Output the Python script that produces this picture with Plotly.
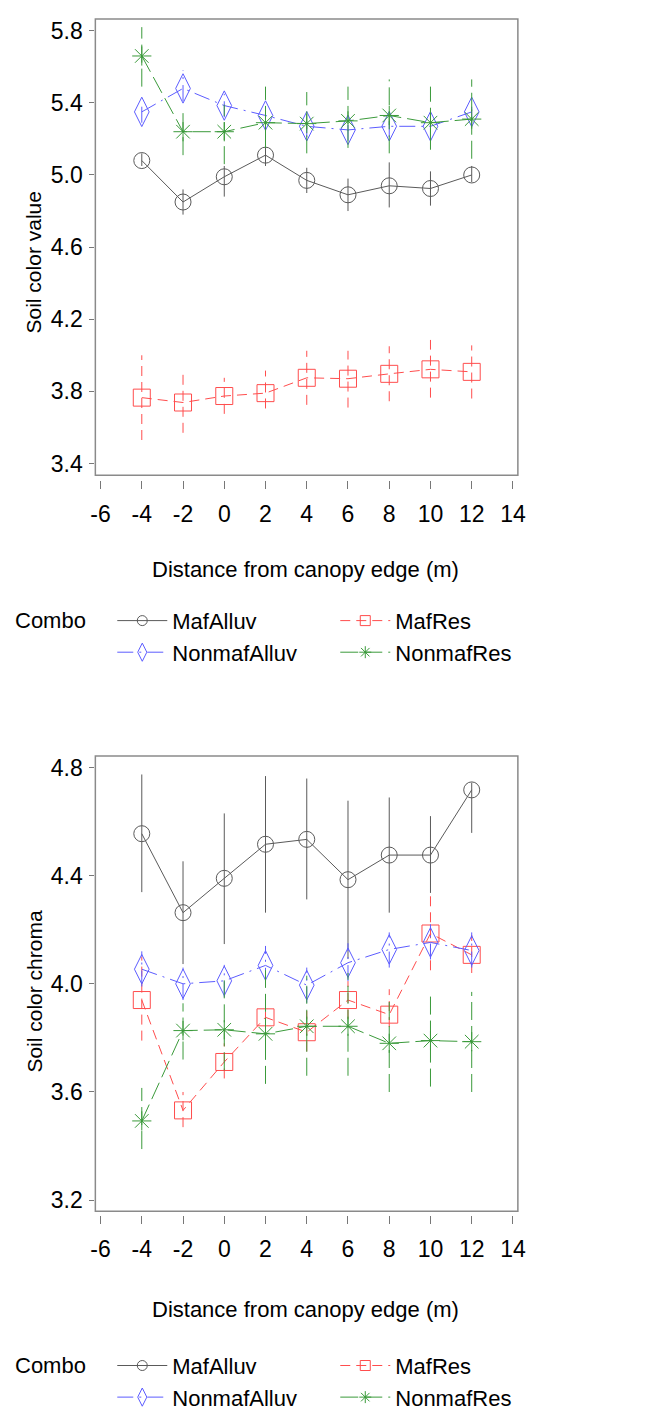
import plotly.graph_objects as go

# ---------------- data ----------------
distance = [-4, -2, 0, 2, 4, 6, 8, 10, 12]
x_ticks = [-6, -4, -2, 0, 2, 4, 6, 8, 10, 12, 14]
x_tick_labels = ["-6", "-4", "-2", "0", "2", "4", "6", "8", "10", "12", "14"]
combos = ["MafAlluv", "MafRes", "NonmafAlluv", "NonmafRes"]

# Panel 1: Soil color value (mean, lower, upper)
value_mafalluv = [5.08, 4.85, 4.99, 5.11, 4.97, 4.89, 4.94, 4.925, 5.00]
value_mafalluv_lo = [5.05, 4.78, 4.88, 5.05, 4.90, 4.80, 4.82, 4.83, 4.96]
value_mafalluv_hi = [5.12, 4.92, 5.05, 5.17, 5.04, 4.98, 5.07, 5.02, 5.05]

value_mafres = [3.765, 3.738, 3.774, 3.79, 3.875, 3.87, 3.897, 3.922, 3.908]
value_mafres_lo = [3.53, 3.57, 3.675, 3.705, 3.725, 3.71, 3.745, 3.765, 3.76]
value_mafres_hi = [4.00, 3.90, 3.875, 3.915, 4.025, 4.025, 4.05, 4.085, 4.055]

value_nonmafalluv = [5.35, 5.48, 5.385, 5.33, 5.27, 5.25, 5.27, 5.27, 5.35]
value_nonmafalluv_lo = [5.29, 5.41, 5.32, 5.27, 5.21, 5.19, 5.21, 5.21, 5.29]
value_nonmafalluv_hi = [5.41, 5.58, 5.45, 5.39, 5.33, 5.31, 5.33, 5.33, 5.41]

value_nonmafres = [5.66, 5.24, 5.24, 5.29, 5.285, 5.30, 5.33, 5.29, 5.31]
value_nonmafres_lo = [5.49, 5.11, 5.06, 5.15, 5.12, 5.15, 5.12, 5.14, 5.09]
value_nonmafres_hi = [5.82, 5.36, 5.39, 5.49, 5.46, 5.49, 5.53, 5.49, 5.53]

# Panel 2: Soil color chroma (mean, lower, upper)
chroma_mafalluv = [4.555, 4.263, 4.39, 4.516, 4.534, 4.385, 4.476, 4.476, 4.717]
chroma_mafalluv_lo = [4.339, 4.073, 4.147, 4.263, 4.312, 4.093, 4.263, 4.336, 4.558]
chroma_mafalluv_hi = [4.774, 4.453, 4.63, 4.768, 4.759, 4.677, 4.689, 4.62, 4.744]

chroma_mafres = [3.94, 3.532, 3.711, 3.876, 3.821, 3.94, 3.886, 4.186, 4.107]
chroma_mafres_lo = [3.79, 3.47, 3.65, 3.80, 3.75, 3.87, 3.84, 4.05, 4.04]
chroma_mafres_hi = [4.10, 3.60, 3.78, 3.95, 3.90, 4.01, 3.98, 4.324, 4.18]

chroma_nonmafalluv = [4.054, 4.00, 4.011, 4.068, 3.995, 4.078, 4.127, 4.153, 4.123]
chroma_nonmafalluv_lo = [3.99, 3.94, 3.95, 4.00, 3.93, 4.01, 4.06, 4.09, 4.06]
chroma_nonmafalluv_hi = [4.12, 4.06, 4.07, 4.14, 4.06, 4.15, 4.19, 4.22, 4.19]

chroma_nonmafres = [3.493, 3.827, 3.83, 3.815, 3.843, 3.843, 3.78, 3.79, 3.786]
chroma_nonmafres_lo = [3.389, 3.72, 3.68, 3.63, 3.66, 3.66, 3.60, 3.62, 3.60]
chroma_nonmafres_hi = [3.615, 3.928, 4.03, 4.05, 4.03, 4.04, 3.94, 3.96, 3.97]

value_series = {
    "MafAlluv": (value_mafalluv, value_mafalluv_lo, value_mafalluv_hi),
    "MafRes": (value_mafres, value_mafres_lo, value_mafres_hi),
    "NonmafAlluv": (value_nonmafalluv, value_nonmafalluv_lo, value_nonmafalluv_hi),
    "NonmafRes": (value_nonmafres, value_nonmafres_lo, value_nonmafres_hi),
}
chroma_series = {
    "MafAlluv": (chroma_mafalluv, chroma_mafalluv_lo, chroma_mafalluv_hi),
    "MafRes": (chroma_mafres, chroma_mafres_lo, chroma_mafres_hi),
    "NonmafAlluv": (chroma_nonmafalluv, chroma_nonmafalluv_lo, chroma_nonmafalluv_hi),
    "NonmafRes": (chroma_nonmafres, chroma_nonmafres_lo, chroma_nonmafres_hi),
}

# ---------------- styles ----------------
W, H = 661, 1411
FONT = "Liberation Sans, Arial, sans-serif"
FS = 22
styles = {
    "MafAlluv": dict(color="#5a5a5a", dash="solid", symbol="circle-open", size=16, lsize=10),
    "MafRes": dict(color="#ff4d4d", dash="10px,6px", symbol="square-open", size=17, lsize=10),
    "NonmafAlluv": dict(color="#5c5cff", dash="16px,6px,2px,6px", symbol="diamond-tall-open", size=21, lsize=13),
    "NonmafRes": dict(color="#3a9a3a", dash="18px,6px", symbol="asterisk-open", size=16, lsize=10),
}
ranks = {"MafAlluv": 1, "MafRes": 2, "NonmafAlluv": 3, "NonmafRes": 4}


def px_x(p):
    return p / W


def px_y(p):
    return 1 - p / H


fig = go.Figure()

panels = [
    ("x", "y", "legend", value_series),
    ("x2", "y2", "legend2", chroma_series),
]
for xa, ya, leg, series in panels:
    for name in combos:
        mean, lo, hi = series[name]
        st = styles[name]
        ex, ey = [], []
        for xi, l, h in zip(distance, lo, hi):
            ex += [xi, xi, None]
            ey += [l, h, None]
        fig.add_trace(go.Scatter(
            x=ex, y=ey, mode="lines", xaxis=xa, yaxis=ya,
            line=dict(color=st["color"], width=1, dash=st["dash"]),
            showlegend=False, hoverinfo="skip"))
        fig.add_trace(go.Scatter(
            x=distance, y=mean, mode="lines+markers", name=name,
            xaxis=xa, yaxis=ya, showlegend=False,
            line=dict(color=st["color"], width=1, dash=st["dash"]),
            marker=dict(symbol=st["symbol"], size=st["size"], color=st["color"],
                        line=dict(color=st["color"], width=1))))
    # legend entries (no data drawn; small symbols like the reference key)
    for name in combos:
        st = styles[name]
        fig.add_trace(go.Scatter(
            x=[None], y=[None], mode="lines+markers", name=name,
            xaxis=xa, yaxis=ya, legend=leg, legendrank=ranks[name],
            line=dict(color=st["color"], width=1, dash=st["dash"]),
            marker=dict(symbol=st["symbol"], size=st["lsize"], color=st["color"],
                        line=dict(color=st["color"], width=1))))

xdom = [px_x(84), px_x(515)]
tickfont = dict(family=FONT, size=23, color="black")
common_x = dict(domain=xdom, range=[-6.252, 14.238], tickmode="array", tickvals=x_ticks,
                ticktext=x_tick_labels,
                ticks="outside", ticklen=8, tickcolor="#777", tickwidth=1.3,
                showline=False, showgrid=False, zeroline=False, tickfont=tickfont,
                ticklabelstandoff=5)
common_y = dict(ticks="outside", ticklen=5, tickcolor="#777", tickwidth=1.3, dtick=0.4,
                tickformat=".1f", showline=False, showgrid=False, zeroline=False,
                tickfont=tickfont, ticklabelstandoff=2)

fig.update_layout(
    width=W, height=H, margin=dict(l=0, r=0, t=0, b=0),
    paper_bgcolor="white", plot_bgcolor="white",
    xaxis=dict(anchor="y", **common_x),
    yaxis=dict(anchor="x", domain=[px_y(477), px_y(10)], range=[3.3068, 5.8658],
               tick0=3.4, **common_y),
    xaxis2=dict(anchor="y2", **common_x),
    yaxis2=dict(anchor="x2", domain=[px_y(1221), px_y(756)], range=[3.1441, 4.8427],
                tick0=3.2, **common_y),
    shapes=[
        dict(type="rect", xref="x domain", yref="y domain", x0=0, x1=1, y0=5 / 467, y1=1,
             line=dict(color="#8a8a8a", width=1.5)),
        dict(type="rect", xref="x2 domain", yref="y2 domain", x0=0, x1=1, y0=4 / 465, y1=1,
             line=dict(color="#8a8a8a", width=1.5)),
    ],
    annotations=[
        dict(text="Distance from canopy edge (m)", xref="paper", yref="paper",
             x=px_x(298), y=px_y(567), showarrow=False, xanchor="center", yanchor="middle",
             font=dict(family=FONT, size=FS, color="black")),
        dict(text="Distance from canopy edge (m)", xref="paper", yref="paper",
             x=px_x(298), y=px_y(1316), showarrow=False, xanchor="center", yanchor="middle",
             font=dict(family=FONT, size=FS, color="black")),
        dict(text="Soil color value", xref="paper", yref="paper", textangle=-90,
             x=px_x(21), y=px_y(257), showarrow=False, xanchor="center", yanchor="middle",
             font=dict(family=FONT, size=21, color="black")),
        dict(text="Soil color chroma", xref="paper", yref="paper", textangle=-90,
             x=px_x(21), y=px_y(994), showarrow=False, xanchor="center", yanchor="middle",
             font=dict(family=FONT, size=21, color="black")),
    ],
)

legend_common = dict(orientation="h", x=0, xanchor="left", yanchor="top",
                     title=dict(text="Combo   ", side="left",
                                font=dict(family=FONT, size=FS, color="black")),
                     font=dict(family=FONT, size=FS, color="black"),
                     itemwidth=50, entrywidth=158, bgcolor="rgba(0,0,0,0)",
                     itemsizing="trace", traceorder="normal")
fig.update_layout(legend=dict(y=px_y(598), **legend_common),
                  legend2=dict(y=px_y(1352), **legend_common))

fig.write_html("out.html")
